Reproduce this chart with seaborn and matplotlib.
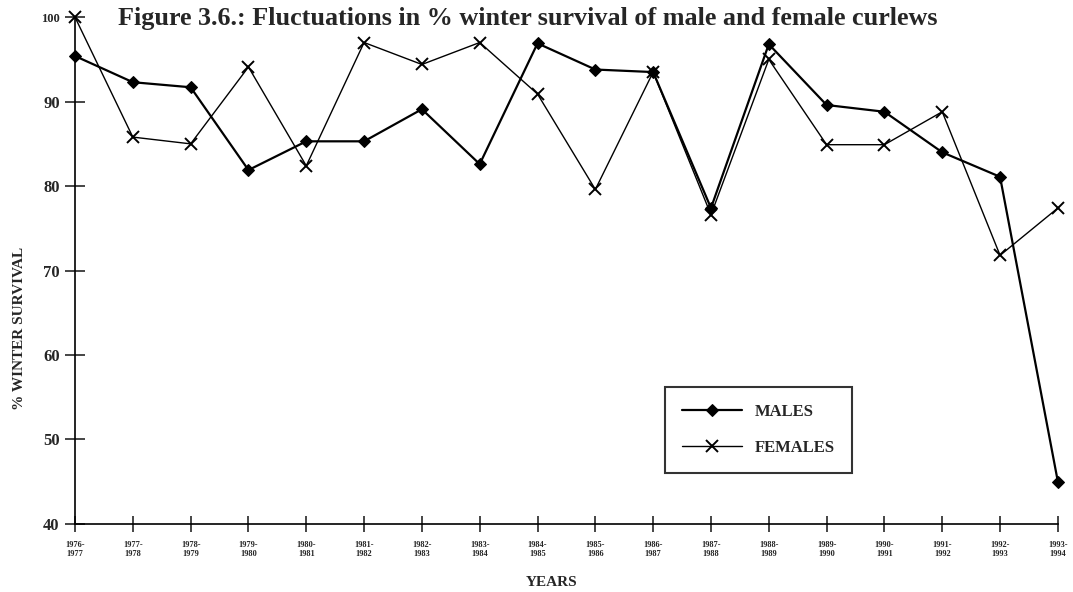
import numpy as np
import pandas as pd
import matplotlib
matplotlib.use("Agg")
import matplotlib.pyplot as plt
import seaborn as sns

years = ["1976-\n1977", "1977-\n1978", "1978-\n1979", "1979-\n1980", "1980-\n1981",
         "1981-\n1982", "1982-\n1983", "1983-\n1984", "1984-\n1985", "1985-\n1986",
         "1986-\n1987", "1987-\n1988", "1988-\n1989", "1989-\n1990", "1990-\n1991",
         "1991-\n1992", "1992-\n1993", "1993-\n1994"]
males = [95.4, 92.3, 91.7, 81.9, 85.3, 85.3, 89.1, 82.6, 96.9, 93.8,
         93.5, 77.4, 96.8, 89.6, 88.8, 84.0, 81.1, 45.0]
females = [100.0, 85.8, 85.0, 94.1, 82.4, 97.0, 94.4, 97.0, 90.9, 79.6,
           93.5, 76.6, 95.0, 84.9, 84.9, 88.8, 71.8, 77.4]
yticks = [40, 50, 60, 70, 80, 90, 100]

sns.set_style("white")
plt.rcParams['font.family'] = ['Liberation Serif', 'DejaVu Serif']

df = pd.DataFrame({"pos": np.arange(len(years)), "MALES": males, "FEMALES": females})

fig = plt.figure(figsize=(10.73, 5.92), dpi=100)
ax = fig.add_axes([0.0699, 0.115, 0.916, 0.856])

sns.lineplot(data=df, x="pos", y="MALES", ax=ax, color="black", lw=1.6,
             marker="D", markersize=6, markeredgecolor="black", label="MALES",
             clip_on=False)
sns.lineplot(data=df, x="pos", y="FEMALES", ax=ax, color="black", lw=1.0,
             marker="x", markersize=8, markeredgewidth=1.4, markeredgecolor="black",
             label="FEMALES", clip_on=False)

ax.set_xlim(0, len(years) - 1)
ax.set_ylim(40, 100)
ax.set_xticks(df["pos"])
ax.set_xticklabels(years, fontsize=6, fontweight="bold")
ax.set_yticks(yticks)
ax.set_yticklabels([str(t) for t in yticks], fontsize=12, fontweight="bold")
ax.get_yticklabels()[-1].set_fontsize(9)

for side in ["top", "right"]:
    ax.spines[side].set_visible(False)
for side in ["left", "bottom"]:
    ax.spines[side].set_color("black")
    ax.spines[side].set_linewidth(1.2)
ax.tick_params(axis="y", direction="inout", length=14, width=1.2, pad=4, left=True)
ax.tick_params(axis="x", direction="inout", length=12, width=1.2, pad=6, bottom=True)

ax.set_xlabel("YEARS", fontsize=11, fontweight="bold")
ax.xaxis.set_label_coords(0.485, -0.102)
ax.set_ylabel("% WINTER SURVIVAL", fontsize=11, fontweight="bold")
ax.yaxis.set_label_coords(-0.05, 0.385)

fig.text(0.11, 0.968, "Figure 3.6.: Fluctuations in % winter survival of male and female curlews",
         fontsize=18.8, fontweight="bold", ha="left", va="center")

leg = ax.legend(loc="lower left", bbox_to_anchor=(0.592, 0.085),
                prop={"weight": "bold", "size": 12}, handlelength=3.6,
                borderpad=1.0, labelspacing=1.2, fancybox=False, frameon=True)
leg.get_frame().set_edgecolor("black")
leg.get_frame().set_linewidth(1.5)

fig.savefig("out.png", dpi=100)
